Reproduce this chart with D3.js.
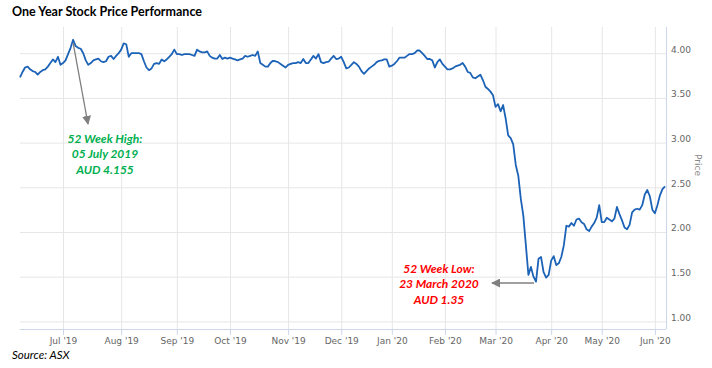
<!DOCTYPE html>
<html>
<head>
<meta charset="utf-8">
<script src="https://cdn.jsdelivr.net/npm/d3@7"></script>
<style>
  body { margin: 0; background: #fff; }
  text { font-family: 'DejaVu Sans', sans-serif; }
</style>
</head>
<body>
<div id="chart"></div>
<script>
// Daily closes, one per ASX trading day, 5 Jun 2019 .. 5 Jun 2020
const prices = [
  3.73, 3.79, 3.84, 3.85, 3.82, 3.80, 3.79, 3.76, 3.79, 3.81,
  3.82, 3.85, 3.89, 3.93, 3.90, 3.96, 3.87, 3.89, 3.92, 3.99,
  4.06, 4.15, 4.08, 4.06, 4.05, 4.00, 3.92, 3.87, 3.89, 3.92,
  3.93, 3.94, 3.91, 3.90, 3.91, 3.96, 3.97, 3.935, 3.97, 4.00,
  4.04, 4.11, 4.10, 3.96, 4.00, 4.00, 4.00, 4.00, 3.99, 3.91,
  3.84, 3.81, 3.83, 3.88, 3.89, 3.88, 3.93, 3.91, 3.93, 3.96,
  3.99, 4.04, 3.99, 3.99, 3.98, 3.99, 3.99, 3.99, 3.98, 3.97,
  4.04, 4.02, 4.01, 4.01, 4.02, 3.97, 3.95, 3.94, 3.94, 3.98,
  3.935, 3.95, 3.94, 3.95, 3.94, 3.93, 3.92, 3.93, 3.94, 3.97,
  3.96, 3.97, 3.98, 3.97, 4.02, 3.89, 3.87, 3.85, 3.85, 3.89,
  3.915, 3.91, 3.90, 3.88, 3.86, 3.84, 3.87, 3.88, 3.89, 3.89,
  3.90, 3.89, 3.935, 3.89, 3.89, 3.93, 3.97, 3.94, 3.99, 3.90,
  3.89, 3.90, 3.905, 3.94, 3.97, 3.935, 3.94, 3.96, 3.90, 3.83,
  3.84, 3.87, 3.90, 3.88, 3.85, 3.80, 3.77, 3.80, 3.83, 3.85,
  3.87, 3.90, 3.915, 3.92, 3.93, 3.93, 3.85, 3.86, 3.88, 3.91,
  3.95, 3.95, 3.95, 3.97, 3.99, 3.99, 4.00, 4.03, 4.03, 4.00,
  3.97, 3.935, 3.935, 3.92, 3.84, 3.90, 3.93, 3.88, 3.85, 3.82,
  3.82, 3.83, 3.85, 3.86, 3.87, 3.89, 3.85, 3.79, 3.78, 3.73,
  3.72, 3.74, 3.76, 3.70, 3.625, 3.60, 3.57, 3.53, 3.40, 3.43,
  3.35, 3.42, 3.27, 3.08, 3.05, 2.98, 2.75, 2.63, 2.37, 2.18,
  1.85, 1.52, 1.61, 1.50, 1.445, 1.70, 1.72, 1.55, 1.49, 1.52,
  1.68, 1.73, 1.63, 1.65, 1.72, 1.85, 2.07, 2.06, 2.10, 2.07,
  2.14, 2.15, 2.11, 2.09, 2.03, 2.01, 2.06, 2.10, 2.16, 2.30,
  2.11, 2.11, 2.16, 2.14, 2.12, 2.15, 2.28, 2.20, 2.13, 2.05,
  2.03, 2.08, 2.22, 2.25, 2.26, 2.25, 2.30, 2.42, 2.47, 2.40,
  2.25, 2.21, 2.30, 2.41, 2.48, 2.51
];

const firstDay = '2019-06-05';
const lastDay = '2020-06-05';
// ASX closed on these weekdays
const holidays = ['2019-06-10', '2019-12-25', '2019-12-26', '2020-01-01',
                  '2020-01-27', '2020-04-10', '2020-04-13'];

const priceTicks = [1.00, 1.50, 2.00, 2.50, 3.00, 3.50, 4.00];

const title = 'One Year Stock Price Performance';
const source = 'Source: ASX';
const highNote = ['52 Week High:', '05 July 2019', 'AUD 4.155'];
const lowNote = ['52 Week Low:', '23 March 2020', 'AUD 1.35'];
const highDay = '2019-07-05';
const lowDay = '2020-03-24';

const width = 712;
const height = 368;
const plot = { left: 20, right: 666, top: 27, bottom: 329 };

const parse = d3.timeParse('%Y-%m-%d');
const fmt = d3.timeFormat('%Y-%m-%d');

// build the list of trading days
const days = d3.timeDay.range(parse(firstDay), d3.timeDay.offset(parse(lastDay), 1))
  .filter(d => d.getDay() !== 0 && d.getDay() !== 6 && !holidays.includes(fmt(d)));

const data = days.map((d, i) => ({ date: d, price: prices[i] })).filter(d => d.price !== undefined);

const svg = d3.select('#chart')
  .append('svg')
  .attr('width', width)
  .attr('height', height);

// ordinal time axis: every trading day gets the same width
const x = d3.scalePoint()
  .domain(data.map(d => d.date))
  .range([plot.left, plot.right - 1]);

const y = d3.scaleLinear()
  .domain([1, 4])
  .range([321.4, 53.2]);

const monthStarts = data
  .filter((d, i) => i > 0 && d.date.getMonth() !== data[i - 1].date.getMonth())
  .map(d => d.date);

// horizontal grid lines
svg.append('g')
  .attr('transform', 'translate(' + plot.right + ',0)')
  .call(d3.axisLeft(y).tickValues(priceTicks).tickSize(plot.right - plot.left).tickFormat(''))
  .call(g => g.select('.domain').remove())
  .call(g => g.selectAll('line').attr('stroke', '#e6e6e6'));

// vertical grid lines
svg.append('g')
  .attr('transform', 'translate(0,' + plot.bottom + ')')
  .call(d3.axisTop(x).tickValues(monthStarts).tickSize(plot.bottom - plot.top).tickFormat(''))
  .call(g => g.select('.domain').remove())
  .call(g => g.selectAll('line').attr('stroke', '#e6e6e6'));

// x axis
svg.append('g')
  .attr('transform', 'translate(0,' + plot.bottom + ')')
  .call(d3.axisBottom(x).tickValues(monthStarts).tickSize(6).tickPadding(2.5)
    .tickFormat(d3.timeFormat("%b '%y")))
  .call(g => g.select('.domain').attr('stroke', '#ccd6eb').attr('d', 'M' + plot.left + ',0.5H' + plot.right))
  .call(g => g.selectAll('line').attr('stroke', '#ccd6eb'))
  .call(g => g.selectAll('text').attr('fill', '#666').style('font-size', '9px'));

// y axis on the right
svg.append('g')
  .attr('transform', 'translate(' + plot.right + ',0)')
  .call(d3.axisRight(y).tickValues(priceTicks).tickSize(0).tickPadding(5)
    .tickFormat(d3.format('.2f')))
  .call(g => g.select('.domain').attr('stroke', '#ccd6eb').attr('d', 'M0.5,' + plot.top + 'V' + plot.bottom))
  .call(g => g.selectAll('text').attr('fill', '#666').attr('dy', '-0.12em').style('font-size', '9px'));

svg.append('text')
  .attr('transform', 'translate(695,165) rotate(90)')
  .attr('text-anchor', 'middle')
  .attr('fill', '#888')
  .style('font-size', '9px')
  .text('Price');

// price line
svg.append('path')
  .datum(data)
  .attr('fill', 'none')
  .attr('stroke', '#1c63b7')
  .attr('stroke-width', 1.8)
  .attr('stroke-linejoin', 'round')
  .attr('d', d3.line().x(d => x(d.date)).y(d => y(d.price)));

// arrows
const defs = svg.append('defs');
defs.append('marker')
  .attr('id', 'head')
  .attr('viewBox', '0 0 10 10')
  .attr('refX', 9).attr('refY', 5)
  .attr('markerWidth', 9).attr('markerHeight', 9)
  .attr('markerUnits', 'userSpaceOnUse')
  .attr('orient', 'auto')
  .append('path')
  .attr('d', 'M0,0L10,5L0,10Z')
  .attr('fill', '#7f7f7f');

const hi = data.find(d => fmt(d.date) === highDay);
const lo = data.find(d => fmt(d.date) === lowDay);

svg.append('line')
  .attr('x1', x(hi.date)).attr('y1', y(hi.price) + 3)
  .attr('x2', 88).attr('y2', 124)
  .attr('stroke', '#7f7f7f').attr('stroke-width', 1.3)
  .attr('marker-end', 'url(#head)');

svg.append('line')
  .attr('x1', x(lo.date) - 2).attr('y1', 283)
  .attr('x2', 492).attr('y2', 283)
  .attr('stroke', '#7f7f7f').attr('stroke-width', 1.3)
  .attr('marker-end', 'url(#head)');

function note(lines, cx, top, color) {
  svg.append('text')
    .attr('text-anchor', 'middle')
    .attr('fill', color)
    .style('font-family', 'Lato, sans-serif')
    .style('font-size', '12px')
    .style('font-weight', 'bold')
    .style('font-style', 'italic')
    .selectAll('tspan')
    .data(lines)
    .join('tspan')
    .attr('x', cx)
    .attr('y', (d, i) => top + i * 15.5)
    .text(d => d);
}
note(highNote, 105, 142.5, '#00b050');
note(lowNote, 439, 272.5, '#ff0000');

// title and source
svg.append('text')
  .attr('x', 12).attr('y', 16)
  .style('font-family', 'Lato, sans-serif')
  .style('font-size', '12.5px')
  .style('font-weight', 'bold')
  .text(title);

svg.append('text')
  .attr('x', 12).attr('y', 359)
  .style('font-family', 'Lato, sans-serif')
  .style('font-size', '11.5px')
  .style('font-style', 'italic')
  .text(source);
</script>
</body>
</html>
